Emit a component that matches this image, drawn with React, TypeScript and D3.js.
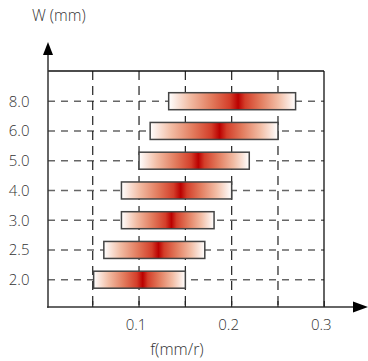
import React from "react";
import * as d3 from "d3";

const categories = ["2.0", "2.5", "3.0", "4.0", "5.0", "6.0", "8.0"];
const lowValues = [0.051, 0.062, 0.081, 0.081, 0.100, 0.112, 0.132];
const highValues = [0.150, 0.171, 0.181, 0.200, 0.219, 0.250, 0.269];
const peakValues = [0.104, 0.121, 0.135, 0.145, 0.164, 0.187, 0.207];
const xTickLabels = [0.1, 0.2, 0.3];
const xGridValues = [0.05, 0.1, 0.15, 0.2, 0.25];
const xMinorTicks = [0.05, 0.1, 0.15, 0.2, 0.25, 0.3];

const W = 368;
const H = 361;
const left = 48;
const right = 324;
const top = 71;
const bottom = 307;
const font = "'Open Sans', 'Noto Sans', sans-serif";

export default function App() {
  const x = d3.scaleLinear().domain([0, 0.3]).range([46.4, 324.3]);
  const y = d3.scalePoint<string>().domain(categories).range([279.7, 101.2]);
  const barH = 17;

  const rows = categories.map((c, i) => ({
    c,
    lo: lowValues[i],
    hi: highValues[i],
    pk: peakValues[i],
  }));

  const stopsFor = (frac: number) => {
    const side = [
      [0, "#ffffff"],
      [0.3, "#f2bda5"],
      [0.62, "#e27a5c"],
      [0.88, "#d43e2a"],
      [1, "#bb0000"],
    ] as [number, string][];
    const out: [number, string][] = [];
    side.forEach(([t, col]) => out.push([t * frac, col]));
    side
      .slice()
      .reverse()
      .forEach(([t, col]) => {
        if (t === 1) return;
        out.push([frac + (1 - t) * (1 - frac), col]);
      });
    return out;
  };

  return (
    <svg
      width={W}
      height={H}
      style={{ position: "absolute", left: 0, top: 0 }}
      fontFamily={font}
      fontWeight={300}
    >
      <defs>
        {rows.map((r, i) => {
          const frac = (r.pk - r.lo) / (r.hi - r.lo);
          return (
            <linearGradient key={i} id={`g${i}`} x1="0" x2="1" y1="0" y2="0">
              {stopsFor(frac).map(([o, col], j) => (
                <stop key={j} offset={o} stopColor={col} />
              ))}
            </linearGradient>
          );
        })}
      </defs>

      {/* horizontal dashed gridlines */}
      {rows.map((r) => (
        <line
          key={"h" + r.c}
          x1={left}
          x2={right}
          y1={y(r.c)}
          y2={y(r.c)}
          stroke="#666"
          strokeWidth={1.5}
          strokeDasharray="7,6"
        />
      ))}
      {/* vertical dashed gridlines */}
      {xGridValues.map((v) => (
        <line
          key={"v" + v}
          x1={x(v)}
          x2={x(v)}
          y1={top}
          y2={bottom}
          stroke="#222"
          strokeWidth={1.2}
          strokeDasharray="9,6"
        />
      ))}

      {/* bars */}
      {rows.map((r, i) => (
        <rect
          key={"b" + r.c}
          x={x(r.lo)}
          y={(y(r.c) as number) - barH / 2}
          width={x(r.hi) - x(r.lo)}
          height={barH}
          fill={`url(#g${i})`}
          stroke="#444"
          strokeWidth={1.5}
        />
      ))}

      {/* frame: top and right */}
      <line x1={left} x2={right} y1={top} y2={top} stroke="#111" strokeWidth={1.3} />
      <line x1={right} x2={right} y1={top} y2={bottom} stroke="#111" strokeWidth={1.3} />

      {/* x axis */}
      <line x1={left - 1} x2={356} y1={bottom} y2={bottom} stroke="#333" strokeWidth={1.5} />
      <path d={`M368,${bottom} L353,${bottom - 5.5} L353,${bottom + 5.5} Z`} fill="#000" />
      {xMinorTicks.map((v) => (
        <line
          key={"t" + v}
          x1={x(v)}
          x2={x(v)}
          y1={bottom}
          y2={bottom - 6}
          stroke="#222"
          strokeWidth={1.2}
        />
      ))}
      {xTickLabels.map((v) => (
        <text
          key={"xl" + v}
          x={x(v) - 3}
          y={329.5}
          textAnchor="middle"
          fontSize={15}
          fill="#333"
        >
          {d3.format(".1f")(v)}
        </text>
      ))}
      <text x={177} y={355} textAnchor="middle" fontSize={16} fill="#333">
        f(mm/r)
      </text>

      {/* y axis */}
      <line x1={left} x2={left} y1={bottom + 0.75} y2={53} stroke="#333" strokeWidth={1.5} />
      <path d={`M${left},42 L${left - 5},55 L${left + 5},55 Z`} fill="#000" />
      {rows.map((r) => (
        <text
          key={"yl" + r.c}
          x={29.5}
          y={(y(r.c) as number) + 5.5}
          textAnchor="end"
          fontSize={15}
          fill="#333"
        >
          {r.c}
        </text>
      ))}
      <text x={32} y={21} fontSize={15.5} fill="#333">
        W (mm)
      </text>
    </svg>
  );
}
